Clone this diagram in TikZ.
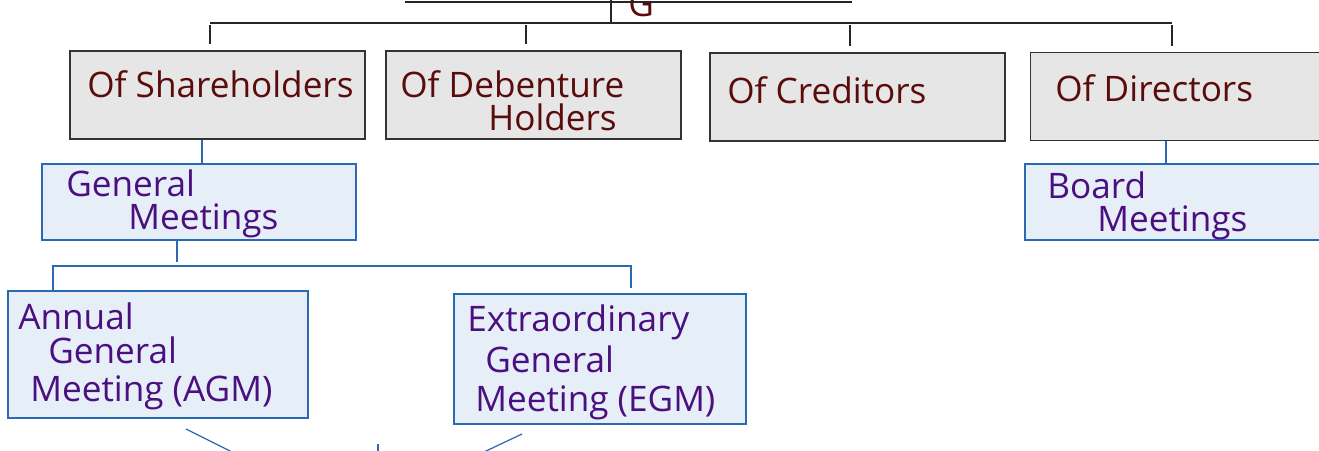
\documentclass[tikz,border=0pt]{standalone}
\usepackage{fontspec}
\setmainfont{Open Sans}
\usetikzlibrary{positioning}
\definecolor{maroon}{HTML}{5A0C0C}
\definecolor{plum}{HTML}{4B0F7F}
\definecolor{boxblue}{HTML}{2A6AB3}
\definecolor{fillblue}{HTML}{E6EEF7}
\definecolor{fillgray}{HTML}{E6E6E6}
\begin{document}
\begin{tikzpicture}[x=0.02cm,y=-0.02cm,
graybox/.style={draw=black!80,line width=0.8pt,fill=fillgray,minimum width=5.9cm,minimum height=1.76cm,inner sep=0pt},
bluebox/.style={draw=boxblue,line width=0.8pt,fill=fillblue,inner sep=0pt},
tline/.style={draw=black!85,line width=0.7pt},
bline/.style={draw=boxblue,line width=0.7pt},
gtext/.style={anchor=base west,inner sep=0pt,text=maroon,font=\fontsize{20}{24}\selectfont},
btext/.style={anchor=base west,inner sep=0pt,text=plum,font=\fontsize{20}{24}\selectfont}]
\useasboundingbox(0,0)rectangle(1319,450);
\clip(0,0)rectangle(1319,450);
\node[graybox](shr)at(217.5,95){};
\node[graybox](deb)at(533.5,95){};
\node[graybox](cred)at(857.5,97){};
\node[graybox](dir)at(1178,96.5){};
\node[bluebox,minimum width=6.28cm,minimum height=1.52cm](gm)at(199,202){};
\node[bluebox,minimum width=6.28cm,minimum height=1.52cm](board)at(1182,202){};
\node[bluebox,minimum width=6cm,minimum height=2.54cm](agm)at(158,354.5){};
\node[bluebox,minimum width=5.84cm,minimum height=2.6cm](egm)at(600,359){};
\node[gtext](top)at(628,16){G};
\node[gtext](shr1)at(87,97){Of Shareholders};
\node[gtext](deb1)at(400,97){Of Debenture};
\node[gtext](deb2)at(488,130){Holders};
\node[gtext](cred1)at(727,103){Of Creditors};
\node[gtext](dir1)at(1055,101){Of Directors};
\node[btext](gm1)at(66,196){General};
\node[btext](gm2)at(128,229){Meetings};
\node[btext](board1)at(1047,198){Board};
\node[btext](board2)at(1097,231){Meetings};
\node[btext](agm1)at(18,329){Annual};
\node[btext](agm2)at(48,363){General};
\node[btext](agm3)at(30,401){Meeting (AGM)};
\node[btext](egm1)at(467,331){Extraordinary};
\node[btext](egm2)at(485,372){General};
\node[btext](egm3)at(475,411){Meeting (EGM)};
\coordinate(headL)at(405,2);
\coordinate(headR)at(852,2);
\coordinate(stem)at(611,0);
\coordinate(barL)at(210,23);
\coordinate(barR)at(1172,23);
\draw[tline](headL)--(headR);
\draw[tline](stem)--(stem|-barL);
\draw[tline](barL)--(barR);
\foreach \x/\n in {210/shr,526/deb,850/cred,1172/dir}
\draw[tline](\x,25)--([yshift=0.12cm]\x,0|-\n.north);
\draw[bline](202,0|-shr.south)--(202,0|-gm.north);
\draw[bline](1166,0|-dir.south)--(1166,0|-board.north);
\coordinate(split)at(177,266);
\draw[bline](177,0|-gm.south)--([yshift=0.08cm]split);
\draw[bline](53,0|-agm.north)|-(split)-|([yshift=0.1cm]631,0|-egm.north);
\draw[bline](186,429)--(268,470);
\draw[bline](378,444)--(378,470);
\draw[bline](522,434)--(448,469);
\end{tikzpicture}
\end{document}
